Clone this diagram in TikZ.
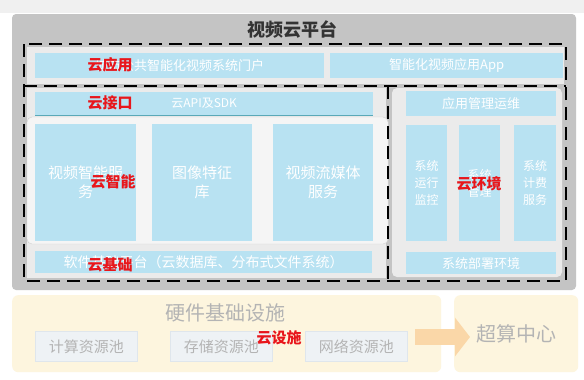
\documentclass[tikz,border=0pt]{standalone}
\usepackage{fontspec}
\setmainfont{Noto Sans CJK SC}
\usetikzlibrary{arrows.meta,positioning}

\definecolor{barblue}{HTML}{B8E2F2}
\definecolor{platgray}{HTML}{C4C4C4}
\definecolor{panelgray}{HTML}{EBEBEB}
\definecolor{labelred}{HTML}{E8161B}
\definecolor{hwyellow}{HTML}{FDF5DE}
\definecolor{arrowfill}{HTML}{FAD7A8}
\definecolor{poolfill}{HTML}{EEF2F5}
\definecolor{pooldraw}{HTML}{DFE6EC}
\definecolor{textgray}{HTML}{B4B4B4}
\definecolor{apiline}{HTML}{5AA9B8}

\newcommand{\fsz}[1]{\fontsize{#1}{#1}\selectfont}

\begin{document}
\begin{tikzpicture}[x=1pt,y=-1pt,
  bluebar/.style={fill=barblue, text=white, inner sep=0pt, anchor=north west,
    align=center, font=\fontsize{13}{18}\selectfont},
  redlabel/.style={text=labelred, inner sep=0pt, font=\bfseries\fsz{15}},
  dashline/.style={line width=2.6pt, dash pattern=on 13pt off 7pt},
  poolbox/.style={fill=poolfill, draw=pooldraw, line width=0.8pt, inner sep=0pt,
    minimum width=102pt, minimum height=30pt, anchor=north west,
    text=textgray, font=\fsz{15}},
  yellowbox/.style={fill=hwyellow, rounded corners=6pt, inner sep=0pt, anchor=north west}
]
\useasboundingbox (0,0) rectangle (584,380);
\fill[white] (0,0) rectangle (584,380);
\fill[black!6] (0,0) rectangle (584,13);

% platform
\fill[platgray, rounded corners=4pt] (12,14) rectangle (576,290);
\node[text=black!80, font=\bfseries\fsz{18}] (title) at (292,30) {视频云平台};

% layer panels
\fill[panelgray] (27,47) rectangle (564,84);
\fill[panelgray] (27,88) rectangle (386,278);
\draw[draw=black!18, fill=black!4, rounded corners=5pt] (27,117) rectangle (388,244);
\fill[panelgray, rounded corners=5pt] (392,88) rectangle (562,277);

% cloud application
\node[bluebar, minimum width=289pt, minimum height=25pt] (portal) at (35,53) {城市公共智能化视频系统门户};
\node[bluebar, minimum width=233pt, minimum height=25pt] (app) at (330,53) {智能化视频应用App};

% cloud interface
\node[bluebar, minimum width=338pt, minimum height=23pt, font=\fsz{12}] (api) at (35,92) {云API及SDK};
\draw[apiline, line width=1.2pt] (api.south west) -- (api.south east);

% cloud intelligence
\node[bluebar, minimum width=101pt, minimum height=117pt, font=\fontsize{15}{19}\selectfont] (smart) at (35,124) {视频智能服\\务};
\node[bluebar, minimum width=100pt, minimum height=117pt, font=\fontsize{15}{19}\selectfont] (feature) at (152,124) {图像特征\\库};
\node[bluebar, minimum width=100pt, minimum height=117pt, font=\fontsize{15}{19}\selectfont] (media) at (273,124) {视频流媒体\\服务};

% cloud basis
\node[bluebar, minimum width=337pt, minimum height=22pt, font=\fsz{14}] (base) at (35,251) {软件基础平台（云数据库、分布式文件系统）};

% cloud environment
\node[bluebar, minimum width=150pt, minimum height=25pt] (ops) at (406,91) {应用管理运维};
\node[bluebar, minimum width=41pt, minimum height=116pt, font=\fontsize{12}{17}\selectfont] (monitor) at (406,125) {系统\\运行\\监控};
\node[bluebar, minimum width=41pt, minimum height=116pt, font=\fontsize{12}{17}\selectfont] (manage) at (459,125) {系统\\管理};
\node[bluebar, minimum width=42pt, minimum height=116pt, font=\fontsize{12}{17}\selectfont] (billing) at (514,125) {系统\\计费\\服务};
\node[bluebar, minimum width=150pt, minimum height=22pt] (deploy) at (406,252) {系统部署环境};

% dashed borders
\draw[dashline] (24,44) rectangle (566,281);
\draw[dashline] (24,86) -- (566,86);
\draw[dashline] (388,86) -- (388,281);

% hardware
\node[yellowbox, minimum width=429pt, minimum height=77pt] (hw) at (12,295) {};
\node[yellowbox, minimum width=124pt, minimum height=77pt, text=textgray, font=\fsz{20}] (hpc) at (454,295) {\raisebox{-5pt}{超算中心}};
\node[text=textgray, font=\fsz{20}] (hwtitle) at (225,313) {硬件基础设施};
\node[poolbox] (compute) at (35,331) {计算资源池};
\node[poolbox] (storage) at (170,331) {存储资源池};
\node[poolbox] (network) at (305,331) {网络资源池};
\coordinate (arrS) at (415,337);
\coordinate (arrE) at (470,337);
\draw[arrowfill, line width=16pt, -{Triangle[length=15pt,width=38pt]}] (arrS) -- (arrE);

% red labels
\node[redlabel] (lapp) at (110,65) {云应用};
\node[redlabel] (lapi) at (110,103) {云接口};
\node[redlabel] (lsmart) at (113,182) {云智能};
\node[redlabel] (lbase) at (110,265) {云基础};
\node[redlabel] (lenv) at (479,184) {云环境};
\node[redlabel] (lhw) at (279,338) {云设施};
\end{tikzpicture}
\end{document}
